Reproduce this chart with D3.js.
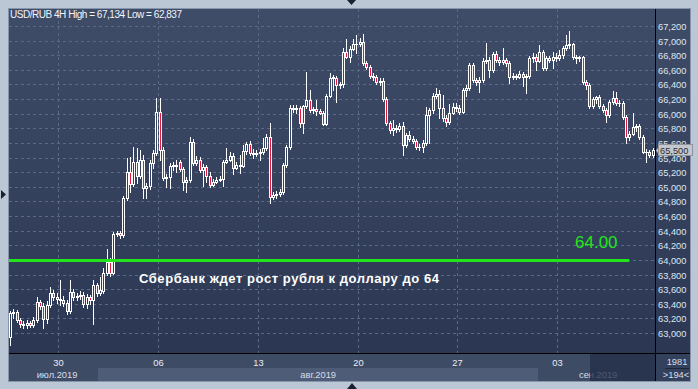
<!DOCTYPE html>
<html>
<head>
<meta charset="utf-8">
<script src="https://cdnjs.cloudflare.com/ajax/libs/d3/7.8.5/d3.min.js"></script>
<style>
body { margin: 0; background: #bcc7d5; }
svg { display: block; }
</style>
</head>
<body>
<svg width="698" height="389"></svg>
<script>
// USD/RUB 4H bars
var opens = [62.95,63.27,63.29,63.18,63.12,63.11,63.14,63.11,63.18,63.43,
63.37,63.19,63.38,63.55,63.49,63.47,63.45,63.41,63.30,63.56,
63.49,63.51,63.52,63.40,63.49,63.45,63.66,63.55,63.58,63.82,
63.97,63.82,64.36,64.37,64.34,64.85,65.20,65.04,65.34,65.15,
65.37,64.98,65.01,65.33,65.46,66.02,65.50,65.12,65.13,65.29,
65.30,65.34,65.24,65.07,65.09,65.61,65.33,65.37,65.23,65.27,
65.15,65.03,65.07,65.09,65.11,65.34,65.37,65.42,65.26,65.30,
65.29,65.49,65.59,65.46,65.45,65.46,65.47,65.53,65.68,64.86,
64.89,64.90,64.93,65.30,65.55,66.08,66.07,66.08,65.87,66.11,
66.19,66.05,66.06,66.04,66.01,65.86,66.24,66.49,66.49,66.39,
66.41,66.85,66.78,66.89,66.95,66.96,66.98,66.69,66.64,66.52,
66.50,66.43,66.45,66.20,65.87,65.78,65.81,65.79,65.83,65.57,
65.71,65.65,65.63,65.55,65.54,65.60,65.98,66.05,66.24,66.27,
66.08,65.94,65.89,66.01,66.09,66.08,66.02,66.33,66.35,66.67,
66.46,66.43,66.46,66.72,66.74,66.60,66.82,66.74,66.71,66.74,
66.69,66.50,66.52,66.50,66.54,66.50,66.52,66.76,66.78,66.72,
66.85,66.63,66.76,66.74,66.78,66.76,66.80,66.90,66.94,66.95,
66.78,66.76,66.77,66.43,66.39,66.11,66.20,66.23,66.11,66.05,
65.98,66.16,66.22,66.15,66.14,65.96,65.68,65.72,65.82,65.83,
65.68,65.48,65.47,65.43];
var highs = [63.30,63.33,63.32,63.21,63.17,63.18,63.17,63.22,63.49,63.45,
63.41,63.44,63.63,63.59,63.55,63.73,63.51,63.45,63.73,63.60,
63.55,63.58,63.56,63.53,63.52,63.73,63.69,63.77,63.89,64.15,
64.03,64.38,64.40,64.40,64.88,65.40,65.41,65.55,65.53,65.50,
65.44,65.05,65.37,65.50,66.22,66.22,65.55,65.18,65.33,65.34,
65.37,65.37,65.27,65.14,65.68,65.65,65.42,65.41,65.31,65.30,
65.20,65.11,65.14,65.15,65.37,65.53,65.48,65.46,65.34,65.44,
65.57,65.61,65.63,65.52,65.50,65.52,65.67,65.72,65.87,64.93,
64.94,64.97,65.33,65.57,66.12,66.12,66.12,66.11,66.12,66.57,
66.33,66.09,66.19,66.07,66.04,66.27,66.56,66.53,66.52,66.43,
66.90,67.02,66.93,67.02,67.08,67.04,67.09,66.72,66.67,66.56,
66.53,66.49,66.49,66.23,65.90,65.91,65.85,65.87,65.89,65.74,
65.76,65.70,65.65,65.59,65.64,66.09,66.08,66.28,66.35,66.33,
66.26,65.98,66.13,66.15,66.15,66.12,66.35,66.39,66.69,66.69,
66.49,66.50,66.76,66.97,66.78,66.85,66.86,66.78,66.90,66.76,
66.72,66.56,66.54,66.59,66.57,66.54,66.79,66.83,66.82,66.94,
66.87,66.79,66.79,66.85,66.83,66.87,66.93,67.08,67.134,66.97,
66.80,66.79,66.79,66.46,66.42,66.23,66.24,66.26,66.13,66.08,
66.19,66.31,66.30,66.19,66.17,65.98,65.76,66.01,65.86,65.86,
65.71,65.52,65.50,65.53];
var lows = [62.837,63.21,63.15,63.08,63.07,63.07,63.08,63.08,63.15,63.33,
63.07,63.14,63.36,63.45,63.41,63.38,63.37,63.26,63.27,63.45,
63.45,63.47,63.36,63.34,63.40,63.12,63.51,63.52,63.55,63.79,
63.78,63.81,64.33,64.30,64.31,64.82,64.93,65.01,65.05,65.12,
64.85,64.85,64.97,65.26,65.44,65.37,65.09,65.00,64.98,65.23,
65.20,65.22,64.96,64.93,65.07,65.30,65.30,65.20,65.01,65.07,
65.00,65.01,65.05,65.08,65.01,65.33,65.35,65.18,65.24,65.19,
65.27,65.45,65.44,65.40,65.42,65.37,65.45,65.50,64.78,64.83,
64.85,64.87,64.90,65.27,65.52,66.02,66.01,65.82,65.74,66.08,
66.02,66.01,65.98,66.00,65.85,65.85,66.23,66.33,66.16,66.35,
66.37,66.76,66.71,66.87,66.83,66.93,66.67,66.61,66.49,66.46,
66.41,66.39,66.17,65.85,65.74,65.71,65.75,65.76,65.44,65.55,
65.63,65.60,65.52,65.50,65.48,65.57,65.60,66.01,66.22,65.94,
65.90,65.83,65.86,66.00,66.04,66.00,66.01,66.24,66.33,66.43,
66.39,66.30,66.43,66.69,66.50,66.57,66.71,66.67,66.68,66.65,
66.42,66.48,66.48,66.49,66.38,66.28,66.49,66.71,66.60,66.71,
66.60,66.60,66.71,66.63,66.72,66.74,66.76,66.87,66.90,66.75,
66.69,66.72,66.41,66.34,66.08,66.08,66.15,66.08,66.02,65.89,
65.96,66.13,66.12,66.11,65.93,65.60,65.64,65.71,65.76,65.65,
65.46,65.34,65.41,65.41];
var closes = [63.27,63.29,63.18,63.12,63.11,63.14,63.11,63.18,63.43,63.37,
63.19,63.38,63.55,63.49,63.47,63.45,63.41,63.30,63.56,63.49,
63.51,63.52,63.40,63.49,63.45,63.66,63.55,63.59,63.82,63.97,
63.82,64.36,64.37,64.34,64.85,65.20,65.04,65.34,65.15,65.37,
64.98,65.01,65.33,65.46,66.02,65.50,65.12,65.13,65.29,65.30,
65.29,65.24,65.07,65.09,65.61,65.33,65.37,65.23,65.27,65.15,
65.03,65.07,65.09,65.11,65.34,65.37,65.42,65.26,65.30,65.29,
65.49,65.59,65.46,65.45,65.46,65.47,65.53,65.68,64.86,64.89,
64.90,64.93,65.30,65.55,66.08,66.07,66.08,65.87,66.11,66.19,
66.05,66.06,66.04,66.01,65.86,66.24,66.49,66.50,66.39,66.41,
66.85,66.78,66.89,66.95,66.96,66.98,66.69,66.64,66.52,66.50,
66.43,66.45,66.20,65.87,65.78,65.81,65.79,65.83,65.57,65.71,
65.65,65.63,65.55,65.54,65.60,65.98,66.05,66.24,66.27,66.08,
65.94,65.89,66.01,66.09,66.08,66.02,66.33,66.35,66.67,66.46,
66.43,66.46,66.72,66.74,66.60,66.82,66.74,66.71,66.74,66.69,
66.50,66.52,66.50,66.54,66.50,66.52,66.76,66.78,66.72,66.85,
66.63,66.76,66.74,66.78,66.76,66.80,66.90,66.94,66.95,66.78,
66.76,66.77,66.43,66.39,66.11,66.20,66.23,66.11,66.05,65.98,
66.16,66.22,66.15,66.14,65.96,65.68,65.72,65.82,65.83,65.68,
65.48,65.47,65.43,65.50];

var dayTicks = ["30", "06", "13", "20", "27", "03"];
var dayTickBars = [15, 45, 75, 105, 135, 165];
var months = ["июл.2019", "авг.2019", "сен.2019"];
var monthBars = [14, 98, 171];
var supportLevel = 64.00;
var note = "Сбербанк ждет рост рубля к доллару до 64";
var totalBars = 1981;

var fmt = function (v) { return d3.format(".3f")(v).replace(".", ","); };
var font = "'Liberation Sans', Arial, sans-serif";

var svg = d3.select("svg");
var bars = closes.map(function (c, i) {
    return { i: i, o: opens[i], h: highs[i], l: lows[i], c: c };
});

var x = d3.scaleLinear().domain([0, bars.length - 1]).range([10, 652.5]);
var y = d3.scaleLinear().domain([63, 67.2]).range([333, 26]);
var px = function (i) { return Math.round(x(i)); };
var py = function (v) { return Math.round(y(v)); };

// background gradient (also used for hollow candle bodies)
var grad = svg.append("defs").append("linearGradient")
    .attr("id", "bg").attr("gradientUnits", "userSpaceOnUse")
    .attr("x1", 0).attr("y1", 9).attr("x2", 0).attr("y2", 381);
grad.append("stop").attr("offset", 0).attr("stop-color", "#3f4c68");
grad.append("stop").attr("offset", 1).attr("stop-color", "#2a3651");

svg.append("rect").attr("width", 698).attr("height", 389).attr("fill", "#bcc7d5");
svg.append("rect").attr("x", 8.5).attr("y", 8.5).attr("width", 682).attr("height", 373)
    .attr("fill", "url(#bg)").attr("stroke", "#8795ab");

// time axis strip
svg.append("rect").attr("x", 9).attr("y", 354).attr("width", 646).attr("height", 27).attr("fill", "#3e4b65");
svg.append("rect").attr("x", 98).attr("y", 368).attr("width", 440).attr("height", 13).attr("fill", "#4e5c78");
svg.append("rect").attr("x", 656).attr("y", 354).attr("width", 34).attr("height", 27).attr("fill", "#34415c");

// GRID
var levels = d3.range(0, 22).map(function (k) { return 63 + k * 0.2; });
svg.append("g").selectAll("line").data(levels).enter().append("line")
    .attr("x1", 9).attr("x2", 655)
    .attr("y1", function (d) { return py(d) + 0.5; })
    .attr("y2", function (d) { return py(d) + 0.5; })
    .attr("stroke", "#5b6886").attr("stroke-dasharray", "3,3");
svg.append("g").selectAll("line").data(dayTickBars).enter().append("line")
    .attr("x1", function (d) { return px(d) - 1.5; })
    .attr("x2", function (d) { return px(d) - 1.5; })
    .attr("y1", 9).attr("y2", 353)
    .attr("stroke", "#5b6886").attr("stroke-dasharray", "3,3");

// CANDLES
var candle = svg.append("g").attr("shape-rendering", "crispEdges")
    .selectAll("g").data(bars).enter().append("g");
candle.append("rect") // upper wick
    .attr("x", function (d) { return px(d.i); })
    .attr("y", function (d) { return py(d.h); })
    .attr("width", 1)
    .attr("height", function (d) { return Math.max(0, py(Math.max(d.o, d.c)) - py(d.h)); })
    .attr("fill", "#fff");
candle.append("rect") // lower wick
    .attr("x", function (d) { return px(d.i); })
    .attr("y", function (d) { return py(Math.min(d.o, d.c)); })
    .attr("width", 1)
    .attr("height", function (d) { return Math.max(0, py(d.l) - py(Math.min(d.o, d.c)) + 1); })
    .attr("fill", "#fff");
candle.append("rect") // body outline
    .attr("x", function (d) { return px(d.i) - 1; })
    .attr("y", function (d) { return py(Math.max(d.o, d.c)); })
    .attr("width", 3)
    .attr("height", function (d) { return py(Math.min(d.o, d.c)) - py(Math.max(d.o, d.c)) + 1; })
    .attr("fill", "#fff");
candle.filter(function (d) { return py(Math.min(d.o, d.c)) - py(Math.max(d.o, d.c)) >= 2; })
    .append("rect") // body fill
    .attr("x", function (d) { return px(d.i); })
    .attr("y", function (d) { return py(Math.max(d.o, d.c)) + 1; })
    .attr("width", 1)
    .attr("height", function (d) { return py(Math.min(d.o, d.c)) - py(Math.max(d.o, d.c)) - 1; })
    .attr("fill", function (d) { return d.c < d.o ? "#e8173f" : "url(#bg)"; });

// support level
svg.append("rect").attr("x", 9).attr("y", py(supportLevel) - 1)
    .attr("width", x(186) - 9).attr("height", 3).attr("fill", "#22e51c");
svg.append("text").attr("x", 575).attr("y", py(supportLevel) - 12)
    .attr("font-family", font).attr("font-size", 17).attr("fill", "#22e51c")
    .text(d3.format(".2f")(supportLevel));
svg.append("text").attr("x", 139).attr("y", py(supportLevel) + 23)
    .attr("font-family", font).attr("font-size", 13).attr("font-weight", "bold")
    .attr("textLength", 300).attr("lengthAdjust", "spacing")
    .attr("fill", "#fff").text(note);

// header
svg.append("text").attr("x", 10).attr("y", 18)
    .attr("font-family", font).attr("font-size", 10).attr("fill", "#f2f4f8")
    .attr("textLength", 172).attr("lengthAdjust", "spacing")
    .text("USD/RUB 4H High = " + fmt(d3.max(highs)) + " Low = " + fmt(d3.min(lows)));

// price axis
svg.append("g").selectAll("text").data(levels).enter().append("text")
    .attr("x", 658).attr("y", function (d) { return py(d) + 3.5; })
    .attr("font-family", font).attr("font-size", 9.3).attr("fill", "#dde6f3")
    .text(function (d) { return fmt(d); });

var last = closes[closes.length - 1];
svg.append("path")
    .attr("d", "M656," + (py(last) + 0.5) + "l3,-4v8z").attr("fill", "#c4c7cd");
svg.append("rect").attr("x", 658.5).attr("y", py(last) - 5.5).attr("width", 34).attr("height", 11)
    .attr("fill", "#c4c7cd").attr("stroke", "#8e939c");
svg.append("text").attr("x", 660).attr("y", py(last) + 3.5)
    .attr("font-family", font).attr("font-size", 9.3).attr("fill", "#2b2b2b")
    .text(fmt(last));

// time axis labels
svg.append("g").selectAll("text").data(dayTicks).enter().append("text")
    .attr("x", function (d, i) { return px(dayTickBars[i]) - 1.5; })
    .attr("y", 366).attr("text-anchor", "middle")
    .attr("font-family", font).attr("font-size", 9.3).attr("fill", "#e8edf5")
    .text(function (d) { return d; });
svg.append("g").selectAll("text").data(months).enter().append("text")
    .attr("x", function (d, i) { return px(monthBars[i]); })
    .attr("y", 378)
    .attr("text-anchor", function (d, i) { return ["middle", "end", "start"][i]; })
    .attr("font-family", font).attr("font-size", 9.3).attr("fill", "#d8dfea")
    .text(function (d) { return d; });
svg.append("rect").attr("x", 590).attr("y", 354).attr("width", 65).attr("height", 27)
    .attr("fill", "#243049").attr("opacity", 0.78);

// bar counters
svg.append("text").attr("x", 677).attr("y", 365).attr("text-anchor", "middle")
    .attr("font-family", font).attr("font-size", 9.3).attr("fill", "#d8dfea").text(totalBars);
svg.append("line").attr("x1", 665).attr("x2", 689).attr("y1", 368.5).attr("y2", 368.5).attr("stroke", "#1d2536");
svg.append("text").attr("x", 676).attr("y", 378).attr("text-anchor", "middle")
    .attr("font-family", font).attr("font-size", 9.3).attr("fill", "#d8dfea").text(">" + bars.length + "<");

// frame lines
svg.append("line").attr("x1", 655.5).attr("x2", 655.5).attr("y1", 9).attr("y2", 381).attr("stroke", "#000");
svg.append("line").attr("x1", 9).attr("x2", 690).attr("y1", 353.5).attr("y2", 353.5).attr("stroke", "#000");

// scroll markers
svg.append("path").attr("d", "M347,0h9l-4.5,5z").attr("fill", "#1a2030");
svg.append("path").attr("d", "M1,190v9l5,-4.5z").attr("fill", "#1a2030");
svg.append("path").attr("d", "M347,389h10l-5,-6z").attr("fill", "#1a2030");
</script>
</body>
</html>
